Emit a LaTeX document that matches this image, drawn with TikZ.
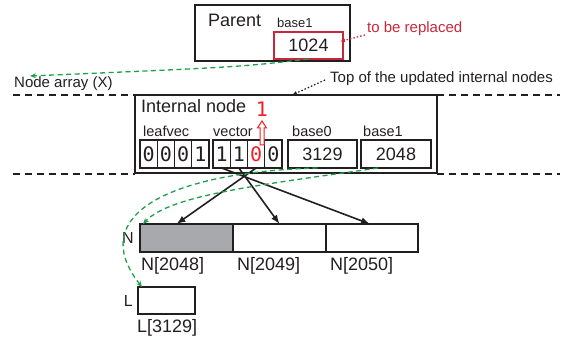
\documentclass[tikz,border=0pt]{standalone}
\usepackage{fontspec}
\setmainfont{Liberation Sans}
\newfontfamily\bitfont{DejaVu Sans Mono}
\usetikzlibrary{positioning, arrows.meta}
\usepackage{xcolor}
\definecolor{inkblack}{RGB}{35,31,32}
\definecolor{replred}{RGB}{200,40,60}
\definecolor{hotred}{RGB}{240,30,35}
\definecolor{ptrgreen}{RGB}{30,160,75}
\definecolor{slotgray}{RGB}{167,169,172}

\tikzset{
  bigtxt/.style={font=\fontsize{18}{21}\selectfont, text=inkblack, inner sep=0pt},
  midtxt/.style={font=\fontsize{15}{18}\selectfont, text=inkblack, inner sep=0pt},
  smalltxt/.style={font=\fontsize{14.5}{17}\selectfont, text=inkblack, inner sep=0pt},
  frame/.style={draw=inkblack, line width=2.5pt, inner sep=0pt, outer sep=0pt},
  bitcell/.style={draw=inkblack, line width=1.3pt, minimum width=17.25pt, minimum height=28pt,
    inner sep=0pt, outer sep=0pt, text=inkblack, font=\bitfont\fontsize{20}{22}\selectfont},
  basebox/.style={draw=inkblack, line width=1.3pt, minimum height=28pt, inner sep=0pt, outer sep=0pt,
    font=\fontsize{18}{21}\selectfont, text=inkblack},
  slot/.style={draw=inkblack, line width=2.2pt, minimum width=93pt, minimum height=28pt,
    inner sep=0pt, outer sep=0pt},
  ptr/.style={ptrgreen, line width=1.3pt, dash pattern=on 5pt off 3.5pt, -{Stealth[length=6pt,width=5pt]}},
  child/.style={inkblack, line width=1.6pt, -{Latex[length=9pt,width=7pt]}},
  layer/.style={inkblack, line width=2pt, dash pattern=on 7pt off 5pt},
}

\begin{document}
\begin{tikzpicture}[x=1pt, y=-1pt]
\useasboundingbox (0,0) rectangle (563,344);

% parent node and its base1 field
\node[frame, minimum width=155pt, minimum height=56pt] (parent) at (272.5,33) {};
\node[bigtxt, anchor=base west] (parentlab) at (208,27) {Parent};
\node[smalltxt, font=\fontsize{13}{15}\selectfont, anchor=base west] (pbaselab) at (277,28) {base1};
\node[draw=replred, line width=1.5pt, minimum width=69pt, minimum height=27pt, inner sep=0pt,
  outer sep=0pt, font=\fontsize{18}{21}\selectfont, text=inkblack] (rb) at (308.5,45.5) {1024};
\node[midtxt, text=replred, anchor=base west] (tbr) at (367,33) {to be replaced};

\node[midtxt, anchor=base west] (nodearr) at (14,88) {Node array (X)};
\coordinate (xarr) at (30,76);
\node[midtxt, anchor=base west] (topnote) at (330,83) {Top of the updated internal nodes};

% internal node
\node[frame, minimum width=302pt, minimum height=78pt] (inode) at (286,134) {};
\node[bigtxt, anchor=base west] (inodelab) at (141,113) {Internal node};
\node[anchor=base, inner sep=0pt, text=hotred, font=\bitfont\fontsize{20}{22}\selectfont] (newbit) at (262,117) {1};

\node[smalltxt, anchor=base west] (leaflab) at (143,137) {leafvec};
\node[smalltxt, anchor=base west] (veclab) at (213,137) {vector};
\node[smalltxt, anchor=base west] (b0lab) at (292,137) {base0};
\node[smalltxt, anchor=base west] (b1lab) at (363,137) {base1};

\node[bitcell] (l1) at (148.6,154) {0};
\node[bitcell, right=0pt of l1] (l2) {0};
\node[bitcell, right=0pt of l2] (l3) {0};
\node[bitcell, right=0pt of l3] (l4) {1};

\node[bitcell] (v1) at (221.6,154) {1};
\node[bitcell, right=0pt of v1] (v2) {1};
\node[bitcell, right=0pt of v2, text=hotred] (v3) {0};
\node[bitcell, right=0pt of v3] (v4) {0};

\node[basebox, minimum width=69pt] (b0) at (322.5,154) {3129};
\node[basebox, minimum width=70pt] (b1) at (396,154) {2048};

% hollow arrow: flipped bit goes up
\coordinate (upbase) at (262,145);
\draw[hotred, fill=white, line width=1pt, line join=miter]
  ([xshift=-2pt]upbase) -- ++(0pt,17pt) -- ++(-2.5pt,0pt) -- ++(4.5pt,7pt)
  -- ++(4.5pt,-7pt) -- ++(-2.5pt,0pt) -- ++(0pt,-17pt) -- cycle;

% level boundaries
\coordinate (topL) at (13,95);
\coordinate (topR) at (560,95);
\coordinate (botL) at (13,174);
\coordinate (botR) at (560,174);
\draw[layer] (topL) -- (inode.north west);
\draw[layer] (inode.north east) -- (topR);
\draw[layer] (botL) -- ([yshift=-1pt]inode.south west);
\draw[layer] ([yshift=-1pt]inode.south east) -- (botR);

% child slots
\node[slot, fill=slotgray] (n1) at (186.5,238) {};
\node[slot, right=0pt of n1] (n2) {};
\node[slot, right=0pt of n2, minimum width=92pt] (n3) {};
\node[midtxt, font=\fontsize{16}{19}\selectfont, left=6pt of n1] (nlab) {N};
\node[bigtxt, anchor=base west] (n1lab) at ([xshift=1pt,yshift=-19pt]n1.south west) {N[2048]};
\node[bigtxt, anchor=base west] (n2lab) at ([xshift=4pt,yshift=-19pt]n2.south west) {N[2049]};
\node[bigtxt, anchor=base west] (n3lab) at ([xshift=4pt,yshift=-19pt]n3.south west) {N[2050]};

\node[slot, minimum width=57pt, minimum height=27pt] (lbox) at (166.5,300.5) {};
\node[midtxt, font=\fontsize{16}{19}\selectfont, left=5pt of lbox] (llab) {L};
\node[bigtxt, anchor=base west] (llablow) at ([xshift=-1pt,yshift=-19pt]lbox.south west) {L[3129]};

% connectors
\draw[replred, line width=1.3pt, dash pattern=on 1.5pt off 2pt, -{Latex[length=5pt,width=4pt]}]
  ([xshift=-2pt,yshift=-2pt]tbr.base west) -- ([xshift=-3pt,yshift=4pt]rb.east);
\draw[inkblack, line width=1.2pt, dash pattern=on 1.5pt off 2pt, -{Latex[length=5pt,width=4pt]}]
  ([xshift=-5pt,yshift=3pt]topnote.base west) -- ([xshift=6pt]inode.north);
\draw[ptr] (rb.south) .. controls (240,67) .. (xarr);

\draw[child] (v1.south) -- ([xshift=-2pt]n3.north);
\draw[child] (v2.south) -- (n2.north);
\draw[child] (v3.south) -- ([xshift=-10pt]n1.north);

\draw[ptr] ([xshift=-18pt]b1.south) .. controls (260,185) and (170,195) .. ([xshift=3pt]n1.north west);
\draw[ptr] ([xshift=-5pt]b0.south) .. controls (170,172) and (85,215) .. ([xshift=4pt]lbox.north west);
\end{tikzpicture}
\end{document}
